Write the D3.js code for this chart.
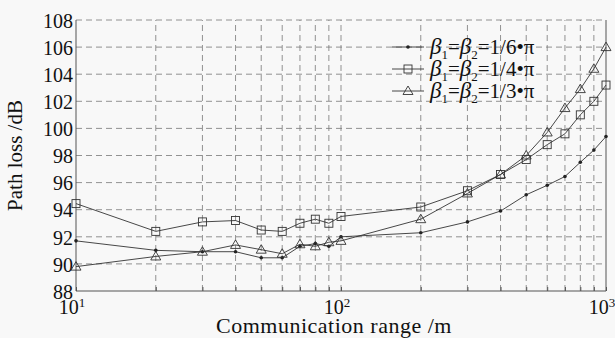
<!DOCTYPE html>
<html>
<head>
<meta charset="utf-8">
<script src="https://cdn.jsdelivr.net/npm/d3@7"></script>
<style>
body { margin: 0; background: #f8f8f8; }
svg { display: block; }
text { font-family: "Liberation Serif", "DejaVu Serif", serif; fill: #111; }
</style>
</head>
<body>
<div id="chart"></div>
<script>
// communication range (m)
var ranges = [10, 20, 30, 40, 50, 60, 70, 80, 90, 100, 200, 300, 400, 500, 600, 700, 800, 900, 1000];
// path loss (dB) per beta setting
var loss16 = [91.7, 91.0, 90.9, 90.9, 90.45, 90.45, 91.3, 91.5, 91.3, 92.0, 92.3, 93.1, 93.9, 95.1, 95.8, 96.45, 97.5, 98.4, 99.4];
var loss14 = [94.45, 92.4, 93.1, 93.2, 92.5, 92.4, 93.0, 93.3, 93.0, 93.5, 94.2, 95.4, 96.6, 97.7, 98.8, 99.6, 101.0, 102.0, 103.2];
var loss13 = [89.8, 90.55, 90.9, 91.4, 91.05, 90.75, 91.45, 91.3, 91.6, 91.7, 93.3, 95.2, 96.6, 98.0, 99.7, 101.5, 102.9, 104.4, 106.0];
var yTicks = [88, 90, 92, 94, 96, 98, 100, 102, 104, 106, 108];
var xTicks = [10, 100, 1000];
var legendLabels = ["1/6", "1/4", "1/3"];

var width = 615, height = 338;
var margin = {top: 20, right: 9, bottom: 47, left: 76};

var svg = d3.select("#chart").append("svg")
     .attr("width", width)
     .attr("height", height);

var x = d3.scaleLog().domain([10, 1000]).range([margin.left, width - margin.right]);
var y = d3.scaleLinear().domain([88, 108]).range([height - margin.bottom, margin.top]);

// grid
var minor = [];
[10, 100].forEach(function (d) {
     for (var k = 2; k <= 9; k++) minor.push(d * k);
});
minor.push(100);
svg.append("g").selectAll("line")
     .data(minor)
     .enter().append("line")
     .attr("x1", function (d) { return x(d); })
     .attr("x2", function (d) { return x(d); })
     .attr("y1", y(88))
     .attr("y2", y(108))
     .attr("stroke", "#777")
     .attr("stroke-width", 0.8)
     .attr("stroke-dasharray", "6,4");
svg.append("g").selectAll("line")
     .data(yTicks.slice(1))
     .enter().append("line")
     .attr("x1", x(10))
     .attr("x2", x(1000))
     .attr("y1", function (d) { return y(d); })
     .attr("y2", function (d) { return y(d); })
     .attr("stroke", "#777")
     .attr("stroke-width", 0.8)
     .attr("stroke-dasharray", "6,4");

// frame (left, bottom, right)
svg.append("path")
     .attr("d", "M" + x(10) + "," + y(108) + "V" + y(88) + "H" + x(1000) + "V" + y(108))
     .attr("fill", "none")
     .attr("stroke", "#555")
     .attr("stroke-width", 1);

// axes
var yAxis = svg.append("g")
     .attr("transform", "translate(" + x(10) + ",0)")
     .call(d3.axisLeft(y).tickValues(yTicks).tickSize(0).tickPadding(3));
yAxis.select(".domain").remove();
yAxis.selectAll("text")
     .style("font-size", "20px")
     .attr("dy", "0.36em");

var xAxis = svg.append("g")
     .attr("transform", "translate(0," + y(88) + ")")
     .call(d3.axisBottom(x).tickValues(minor.concat([10, 1000])).tickSize(-4).tickFormat(""));
xAxis.select(".domain").remove();
xAxis.selectAll("line").attr("stroke", "#555");

var xl = svg.append("g").selectAll("text")
     .data(xTicks)
     .enter().append("text")
     .attr("x", function (d) { return x(d) - 4; })
     .attr("y", y(88) + 23)
     .attr("text-anchor", "middle")
     .style("font-size", "20px");
xl.append("tspan").text("10");
xl.append("tspan")
     .attr("dy", -7)
     .style("font-size", "13px")
     .text(function (d) { return Math.round(Math.log10(d)); });

svg.append("text")
     .attr("x", 334)
     .attr("y", 333)
     .attr("text-anchor", "middle")
     .style("font-size", "22px")
     .style("letter-spacing", "0.5px")
     .text("Communication range /m");

svg.append("text")
     .attr("transform", "translate(22," + ((y(88) + y(108)) / 2) + ") rotate(-90)")
     .attr("text-anchor", "middle")
     .style("font-size", "21px")
     .text("Path loss /dB");

// series
var series = [
     {values: loss16, marker: "dot"},
     {values: loss14, marker: "square"},
     {values: loss13, marker: "triangle"}
];

var line = d3.line()
     .x(function (d) { return x(d[0]); })
     .y(function (d) { return y(d[1]); });

function drawMarker(g, type) {
     if (type === "dot") {
          g.append("circle").attr("r", 1.8).attr("fill", "#222");
     } else if (type === "square") {
          g.append("rect").attr("x", -4).attr("y", -4).attr("width", 8).attr("height", 8)
               .attr("fill", "none").attr("stroke", "#333").attr("stroke-width", 0.9);
     } else {
          g.append("path").attr("d", "M0,-5L5,3.5L-5,3.5Z")
               .attr("fill", "none").attr("stroke", "#333").attr("stroke-width", 0.9);
     }
}

series.forEach(function (s) {
     var pts = ranges.map(function (r, i) { return [r, s.values[i]]; });
     svg.append("path")
          .datum(pts)
          .attr("fill", "none")
          .attr("stroke", "#333")
          .attr("stroke-width", 0.9)
          .attr("d", line);
     svg.append("g").selectAll("g")
          .data(pts)
          .enter().append("g")
          .attr("transform", function (d) { return "translate(" + x(d[0]) + "," + y(d[1]) + ")"; })
          .each(function () { drawMarker(d3.select(this), s.marker); });
});

// legend
var legend = svg.append("g");
series.forEach(function (s, i) {
     var ly = 47 + i * 22;
     legend.append("line")
          .attr("x1", 392).attr("x2", 424)
          .attr("y1", ly).attr("y2", ly)
          .attr("stroke", "#333").attr("stroke-width", 0.9);
     var m = legend.append("g").attr("transform", "translate(408," + ly + ")");
     drawMarker(m, s.marker);
     var t = legend.append("text")
          .attr("x", 430)
          .attr("y", ly + 7)
          .style("font-size", "21px");
     t.append("tspan").style("font-style", "italic").style("font-size", "23px").text("β");
     t.append("tspan").attr("dy", 5).style("font-size", "13px").text("1");
     t.append("tspan").attr("dy", -5).text("=");
     t.append("tspan").style("font-style", "italic").style("font-size", "23px").text("β");
     t.append("tspan").attr("dy", 5).style("font-size", "13px").text("2");
     t.append("tspan").attr("dy", -5).text("=" + legendLabels[i] + "•π");
});
</script>
</body>
</html>
